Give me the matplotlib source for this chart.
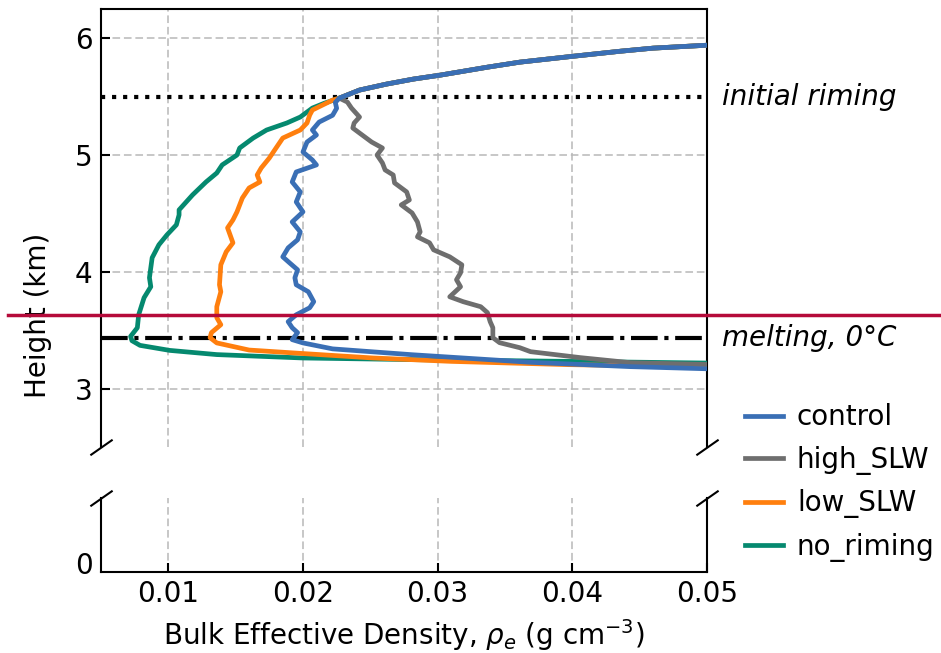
import matplotlib
matplotlib.use('Agg')
import matplotlib.pyplot as plt
from matplotlib.lines import Line2D
from matplotlib.transforms import blended_transform_factory

plt.rcParams['font.size'] = 20

# shared profile above the riming level (all runs identical there)
rho_upper = [0.0505, 0.0500, 0.0460, 0.0436, 0.0401, 0.0361, 0.0337, 0.0302, 0.0282, 0.0262, 0.0242, 0.0227]
z_upper = [5.943, 5.940, 5.915, 5.889, 5.846, 5.795, 5.752, 5.684, 5.650, 5.607, 5.556, 5.487]

# control
ctrl_rho = [0.0224, 0.0225, 0.0222, 0.0212, 0.0207, 0.0210, 0.0203, 0.0200, 0.0207, 0.0210, 0.0195, 0.0192,
            0.0198, 0.0195, 0.0200, 0.0192, 0.0198, 0.0196, 0.0189, 0.0185, 0.0190, 0.0196, 0.0194, 0.0195,
            0.0204, 0.0208, 0.0205, 0.0195, 0.0189, 0.0192, 0.0196, 0.0192, 0.0200, 0.0222, 0.0281, 0.0369,
            0.0443, 0.0505]
ctrl_z = [5.450, 5.400, 5.340, 5.282, 5.214, 5.171, 5.111, 5.026, 4.957, 4.915, 4.855, 4.769,
          4.684, 4.598, 4.513, 4.427, 4.342, 4.274, 4.205, 4.128, 4.077, 4.017, 3.949, 3.889,
          3.829, 3.744, 3.692, 3.632, 3.573, 3.521, 3.479, 3.419, 3.391, 3.340, 3.290, 3.225,
          3.188, 3.168]

# high_SLW
high_rho = [0.0233, 0.0236, 0.0242, 0.0238, 0.0237, 0.0242, 0.0251, 0.0259, 0.0255, 0.0259, 0.0261, 0.0267,
            0.0268, 0.0277, 0.0279, 0.0273, 0.0281, 0.0285, 0.0287, 0.0285, 0.0294, 0.0297, 0.0309, 0.0318,
            0.0317, 0.0314, 0.0317, 0.0309, 0.0319, 0.0332, 0.0337, 0.0339, 0.0341, 0.0341, 0.0346, 0.0361,
            0.0369, 0.0406, 0.0443, 0.0505]
high_z = [5.453, 5.402, 5.325, 5.274, 5.231, 5.188, 5.111, 5.060, 5.000, 4.932, 4.872, 4.829,
          4.761, 4.684, 4.615, 4.573, 4.504, 4.427, 4.342, 4.299, 4.248, 4.188, 4.128, 4.060,
          3.991, 3.932, 3.872, 3.786, 3.744, 3.701, 3.650, 3.573, 3.521, 3.436, 3.393, 3.350,
          3.316, 3.265, 3.222, 3.205]

# low_SLW
low_rho = [0.0222, 0.0207, 0.0205, 0.0203, 0.0198, 0.0185, 0.0180, 0.0175, 0.0169, 0.0166, 0.0168, 0.0160,
           0.0155, 0.0151, 0.0148, 0.0144, 0.0148, 0.0143, 0.0139, 0.0138, 0.0139, 0.0136, 0.0136, 0.0139,
           0.0132, 0.0131, 0.0136, 0.0160, 0.0200, 0.0252, 0.0310, 0.0397, 0.0505]
low_z = [5.470, 5.385, 5.342, 5.274, 5.214, 5.145, 5.060, 4.974, 4.889, 4.829, 4.769, 4.718,
         4.632, 4.513, 4.444, 4.376, 4.248, 4.171, 4.060, 3.889, 3.829, 3.701, 3.607, 3.547,
         3.479, 3.436, 3.391, 3.330, 3.300, 3.262, 3.233, 3.205, 3.186]

# no_riming
nor_rho = [0.0216, 0.0207, 0.0198, 0.0188, 0.0173, 0.0163, 0.0153, 0.0151, 0.0140, 0.0136, 0.0128, 0.0118,
           0.0108, 0.0108, 0.0106, 0.0099, 0.0093, 0.0088, 0.0086, 0.0087, 0.0082, 0.0078, 0.0077, 0.0072,
           0.0073, 0.0079, 0.0101, 0.0136, 0.0200, 0.0281, 0.0397, 0.0505]
nor_z = [5.444, 5.402, 5.325, 5.274, 5.214, 5.145, 5.060, 5.000, 4.915, 4.846, 4.769, 4.658,
         4.530, 4.487, 4.402, 4.316, 4.231, 4.120, 3.949, 3.872, 3.778, 3.632, 3.521, 3.447,
         3.410, 3.370, 3.327, 3.291, 3.262, 3.248, 3.233, 3.218]

z_riming = 5.5
z_melting = 3.43
z_marker = 3.63

fig = plt.figure(figsize=(9.41, 6.53), dpi=100)
ax1 = fig.add_axes([0.1073, 0.3155, 0.6440, 0.6707])
ax2 = fig.add_axes([0.1073, 0.1240, 0.6440, 0.1134])

series = [('control', ctrl_rho, ctrl_z, '#3a6fb5', 4),
          ('high_SLW', high_rho, high_z, '#6e6e6e', 3),
          ('low_SLW', low_rho, low_z, '#ff7f0e', 2),
          ('no_riming', nor_rho, nor_z, '#05896f', 1)]

handles = []
for name, r, z, c, zo in series:
    for ax in (ax1, ax2):
        ln, = ax.plot(rho_upper + r, z_upper + z, color=c, lw=3.4, label=name, zorder=zo + 2,
                      solid_joinstyle='round')
    handles.append(ln)

ax1.axhline(z_riming, color='k', ls=':', lw=3, zorder=2)
ax1.axhline(z_melting, color='k', ls='-.', lw=3, zorder=2)
tr = blended_transform_factory(ax1.transAxes, ax1.transData)
ax1.text(1.025, z_riming, 'initial riming', transform=tr, style='italic', va='center')
ax1.text(1.025, z_melting, 'melting, 0°C', transform=tr, style='italic', va='center')

for ax in (ax1, ax2):
    ax.set_xlim(0.005, 0.05)
    ax.grid(True, ls=(0, (5, 2.5)), color='#b8b8b8', lw=1.1)
    for s in ax.spines.values():
        s.set_linewidth(1.5)

ax1.set_ylim(2.5, 6.25)
ax1.set_yticks([3, 4, 5, 6])
ax1.spines['bottom'].set_visible(False)
ax1.tick_params(axis='x', bottom=False, labelbottom=False)
ax1.tick_params(axis='y', direction='in', length=6.5, width=1.5, pad=6)

ax2.set_ylim(-0.08, 0.55)
ax2.set_yticks([0])
ax2.spines['top'].set_visible(False)
ax2.grid(False, axis='y')
ax2.tick_params(axis='y', direction='in', length=0, pad=6)
ax2.set_xticks([0.01, 0.02, 0.03, 0.04, 0.05])
ax2.set_xticklabels(['0.01', '0.02', '0.03', '0.04', '0.05'])
ax2.tick_params(axis='x', direction='in', length=6.5, width=1.5, pad=6)
ax2.set_xlabel(r'Bulk Effective Density, $\rho_e$ (g cm$^{-3}$)', labelpad=6)

fig.text(38 / 941, 1 - 315 / 653, 'Height (km)', rotation=90, va='center', ha='center')

# break marks
d = 0.7
kw = dict(marker=[(-1, -d), (1, d)], markersize=16, linestyle='none', color='k', mec='k', mew=1.5, clip_on=False)
ax1.plot([0, 1], [0, 0], transform=ax1.transAxes, **kw)
ax2.plot([0, 1], [1, 1], transform=ax2.transAxes, **kw)

# red marker line across whole figure
fig.add_artist(Line2D([8 / 941, 1], [z_marker, z_marker], color='#b50a3a', lw=2.5, zorder=20,
                      transform=blended_transform_factory(fig.transFigure, ax1.transData)))

fig.legend(handles=handles, loc='center left', bbox_to_anchor=(0.7917, 0.2611), frameon=False,
           borderaxespad=0, borderpad=0, handlelength=1.37, handletextpad=0.5, labelspacing=0.52)

fig.savefig('out.png', dpi=100)
